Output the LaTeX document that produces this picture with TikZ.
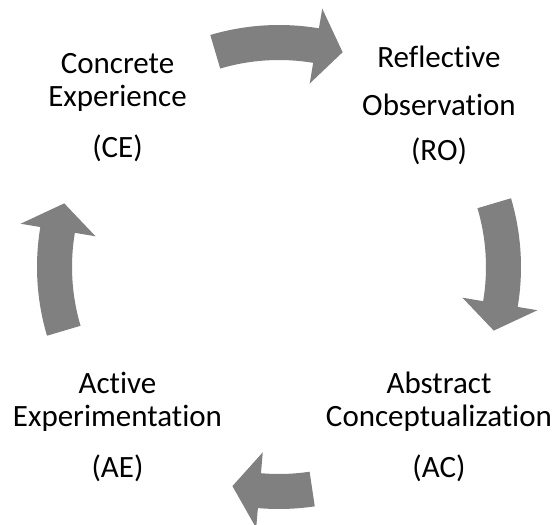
\documentclass[tikz,border=0pt]{standalone}
\usepackage{fontspec}
\setmainfont{Carlito}[Ligatures=NoCommon]
\usetikzlibrary{positioning}

% one curved block arrow of the cycle: tail angle #1, head base #2, tip #3
\newcommand{\cyclearrow}[3]{%
\fill [cyclefill] (#1:242) arc [start angle=#1, end angle=#2, radius=242]
  -- (#2:262) -- (#3:224) -- (#2:186) -- (#2:207)
  arc [start angle=#2, end angle=#1, radius=207] -- cycle;}

\begin{document}
\begin{tikzpicture}[x=1pt, y=1pt,
cyclefill/.style = {fill = black!50},
stage/.style = {align = center, inner sep = 0pt, anchor = base,
  font = \fontsize{31}{33}\selectfont},
stagewide/.style = {stage, font = \fontsize{31}{48}\selectfont}]
\useasboundingbox (0,0) rectangle (558,525);

\coordinate (c) at (279,258);
\begin{scope}[shift = {(c)}]
\cyclearrow{106.5}{80.5}{73.5}
\cyclearrow{16.5}{-9.5}{-16.5}
\cyclearrow{278.5}{265}{258}
\cyclearrow{196.5}{170.5}{163.5}
\end{scope}

\node [stage] (ce) at (117.5,367) {Concrete\\Experience\\[18pt](CE)};
\node [stagewide] (ro) at (439,364) {Reflective\\Observation\\[-3pt](RO)};
\node [stage] (ac) at (439,47) {Abstract\\Conceptualization\\[18pt](AC)};
\node [stage] (ae) at (117.5,47) {Active\\Experimentation\\[18pt](AE)};
\end{tikzpicture}
\end{document}
